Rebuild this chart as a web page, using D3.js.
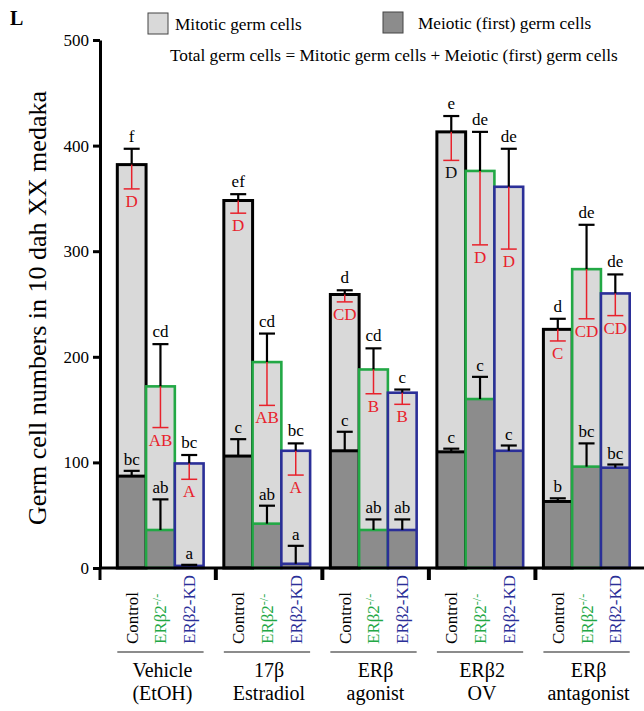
<!DOCTYPE html>
<html>
<head>
<meta charset="utf-8">
<script src="https://cdn.jsdelivr.net/npm/d3@7"></script>
<style>
  html, body { margin: 0; padding: 0; background: #fff; }
  svg { display: block; }
  text { font-family: "Liberation Serif", "DejaVu Serif", "Times New Roman", serif; }
</style>
</head>
<body>
<div id="chart"></div>
<script>
// ---------------- data ----------------
const groupLine1 = ["Vehicle", "17\u03B2", "ER\u03B2", "ER\u03B22", "ER\u03B2"];
const groupLine2 = ["(EtOH)", "Estradiol", "agonist", "OV", "antagonist"];
const genotypes = ["Control", "ER\u03B22-/-", "ER\u03B22-KD"];
const yTicks = [0, 100, 200, 300, 400, 500];

// total germ cells (mean) per group x genotype
const totalVals = [[382, 172, 99], [348, 195, 111], [259, 188, 166], [413, 376, 361], [226, 283, 260]];
const totalErr  = [[15, 40, 8],    [6, 27, 7],     [4, 20, 3],     [15, 37, 36],    [10, 42, 18]];
// mitotic error (drawn in red, downward from total)
const mitoticErr = [[23, 39, 15],  [12, 41, 23],   [7, 23, 11],    [27, 70, 59],    [11, 47, 21]];
// meiotic (first) germ cells
const meioticVals = [[87, 36, 2],  [106, 42, 4],   [111, 36, 36],  [110, 160, 111], [63, 96, 95]];
const meioticErr  = [[5, 29, 1],   [16, 17, 17],   [18, 10, 10],   [3, 21, 5],      [3, 22, 3]];

const totalLetters   = [["f", "cd", "bc"], ["ef", "cd", "bc"], ["d", "cd", "c"], ["e", "de", "de"], ["d", "de", "de"]];
const mitoticLetters = [["D", "AB", "A"], ["D", "AB", "A"], ["CD", "B", "B"], ["D", "D", "D"], ["C", "CD", "CD"]];
const meioticLetters = [["bc", "ab", "a"], ["c", "ab", "a"], ["c", "ab", "ab"], ["c", "c", "c"], ["b", "bc", "bc"]];

// ---------------- chart ----------------
const W = 644, H = 711;
const svg = d3.select("#chart").append("svg").attr("width", W).attr("height", H)
  .attr("font-family", "'Liberation Serif', serif");

const genoColor = ["#000000", "#22a845", "#2b2f98"];
const genoStroke = [3, 2.6, 2.6];
const redCol = "#e8222c";
const lightFill = "#d9d9d9";
const darkFill = "#8c8c8c";

const y = d3.scaleLinear().domain([0, 500]).range([568, 40]);
const groupIdx = d3.range(groupLine1.length);
const x0 = d3.scaleBand().domain(groupIdx).range([96, 651]).paddingInner(0.19).paddingOuter(0.2);
const x1 = d3.scaleBand().domain(d3.range(genotypes.length)).range([0, x0.bandwidth()]);

// panel letter
svg.append("text").attr("x", 10).attr("y", 25).attr("font-size", 20).attr("font-weight", "bold").text("L");

// legend
svg.append("rect").attr("x", 148).attr("y", 13).attr("width", 20).attr("height", 21)
  .attr("fill", lightFill).attr("stroke", "#444").attr("stroke-width", 1);
svg.append("text").attr("x", 175).attr("y", 30).attr("font-size", 17.3).text("Mitotic germ cells");
svg.append("rect").attr("x", 383).attr("y", 12).attr("width", 20).attr("height", 21)
  .attr("fill", darkFill).attr("stroke", "#444").attr("stroke-width", 1);
svg.append("text").attr("x", 418).attr("y", 29).attr("font-size", 17.3).text("Meiotic (first) germ cells");
svg.append("text").attr("x", 170).attr("y", 61).attr("font-size", 17.3)
  .text("Total germ cells = Mitotic germ cells + Meiotic (first) germ cells");

// y axis
const yAxis = d3.axisLeft(y).tickValues(yTicks).tickSize(7).tickSizeOuter(0).tickPadding(4);
const ga = svg.append("g").attr("transform", "translate(100,0)").call(yAxis);
ga.attr("font-family", null);
ga.select(".domain").attr("stroke", "#000").attr("stroke-width", 3);
ga.selectAll(".tick line").attr("stroke", "#000").attr("stroke-width", 3);
ga.selectAll(".tick text").attr("font-size", 17).attr("fill", "#000");
svg.append("line").attr("x1", 100).attr("x2", 100).attr("y1", y(0)).attr("y2", 580)
  .attr("stroke", "#000").attr("stroke-width", 3);

// y label
svg.append("text")
  .attr("transform", `translate(46,${(y(0) + y(500)) / 2 + 4}) rotate(-90)`)
  .attr("text-anchor", "middle").attr("font-size", 26)
  .text("Germ cell numbers in 10 dah XX medaka");

// bars
const capW = 16;
groupIdx.forEach(g => {
  genotypes.forEach((gn, k) => {
    const xl = x0(g) + x1(k);
    const w = x1.bandwidth();
    const tot = totalVals[g][k], meo = meioticVals[g][k];
    const bar = svg.append("g");
    bar.append("rect").attr("x", xl).attr("y", y(tot)).attr("width", w).attr("height", y(meo) - y(tot)).attr("fill", lightFill);
    bar.append("rect").attr("x", xl).attr("y", y(meo)).attr("width", w).attr("height", y(0) - y(meo)).attr("fill", darkFill);
    bar.append("rect").attr("x", xl).attr("y", y(tot)).attr("width", w).attr("height", y(0) - y(tot))
      .attr("fill", "none").attr("stroke", genoColor[k]).attr("stroke-width", genoStroke[k]);
    bar.append("line").attr("x1", xl).attr("x2", xl + w).attr("y1", y(meo)).attr("y2", y(meo))
      .attr("stroke", genoColor[k]).attr("stroke-width", genoStroke[k]);
  });
});

// error bars and letters (drawn on top)
groupIdx.forEach(g => {
  genotypes.forEach((gn, k) => {
    const cx = x0(g) + x1(k) + x1.bandwidth() / 2;
    const tot = totalVals[g][k], meo = meioticVals[g][k];
    const eg = svg.append("g");
    // total error (black, up)
    const tTop = y(tot + totalErr[g][k]);
    eg.append("line").attr("x1", cx).attr("x2", cx).attr("y1", y(tot)).attr("y2", tTop).attr("stroke", "#000").attr("stroke-width", 2.2);
    eg.append("line").attr("x1", cx - capW / 2).attr("x2", cx + capW / 2).attr("y1", tTop).attr("y2", tTop).attr("stroke", "#000").attr("stroke-width", 2.2);
    eg.append("text").attr("x", cx).attr("y", tTop - 7).attr("text-anchor", "middle").attr("font-size", 17).text(totalLetters[g][k]);
    // mitotic error (red, down)
    const rBot = y(tot - mitoticErr[g][k]);
    eg.append("line").attr("x1", cx).attr("x2", cx).attr("y1", y(tot)).attr("y2", rBot).attr("stroke", redCol).attr("stroke-width", 1.5);
    eg.append("line").attr("x1", cx - capW / 2).attr("x2", cx + capW / 2).attr("y1", rBot).attr("y2", rBot).attr("stroke", redCol).attr("stroke-width", 1.5);
    eg.append("text").attr("x", cx).attr("y", rBot + 18).attr("text-anchor", "middle").attr("font-size", 17)
      .attr("fill", (g === 3 && k === 0) ? "#111" : redCol).text(mitoticLetters[g][k]);
    // meiotic error (black, up)
    const mTop = y(meo + meioticErr[g][k]);
    eg.append("line").attr("x1", cx).attr("x2", cx).attr("y1", y(meo)).attr("y2", mTop).attr("stroke", "#000").attr("stroke-width", 2.2);
    eg.append("line").attr("x1", cx - capW / 2).attr("x2", cx + capW / 2).attr("y1", mTop).attr("y2", mTop).attr("stroke", "#000").attr("stroke-width", 2.2);
    eg.append("text").attr("x", cx).attr("y", mTop - 6).attr("text-anchor", "middle").attr("font-size", 17).text(meioticLetters[g][k]);
  });
});

// x axis line and separators
svg.append("line").attr("x1", 100).attr("x2", 644).attr("y1", y(0)).attr("y2", y(0)).attr("stroke", "#000").attr("stroke-width", 3);
groupIdx.slice(1).forEach(g => {
  const sx = x0(g) - 8;
  svg.append("line").attr("x1", sx).attr("x2", sx).attr("y1", y(0)).attr("y2", 580).attr("stroke", "#000").attr("stroke-width", 4);
});

// x labels
groupIdx.forEach(g => {
  genotypes.forEach((gn, k) => {
    const cx = x0(g) + x1(k) + x1.bandwidth() / 2;
    const t = svg.append("text")
      .attr("transform", `translate(${cx},644) rotate(-90)`)
      .attr("dy", "0.35em").attr("font-size", 17).attr("fill", genoColor[k]);
    if (k === 1) {
      t.append("tspan").text("ER\u03B22");
      t.append("tspan").attr("dy", "-0.45em").attr("font-size", 12).text("-/-");
    } else {
      t.text(gn);
    }
  });
  svg.append("line").attr("x1", x0(g)).attr("x2", x0(g) + x0.bandwidth()).attr("y1", 652).attr("y2", 652)
    .attr("stroke", "#666").attr("stroke-width", 1.5);
  const gc = x0(g) + x0.bandwidth() / 2 + 2;
  svg.append("text").attr("x", gc).attr("y", 677).attr("text-anchor", "middle").attr("font-size", 20).text(groupLine1[g]);
  svg.append("text").attr("x", gc).attr("y", 700).attr("text-anchor", "middle").attr("font-size", 20).text(groupLine2[g]);
});
</script>
</body>
</html>
